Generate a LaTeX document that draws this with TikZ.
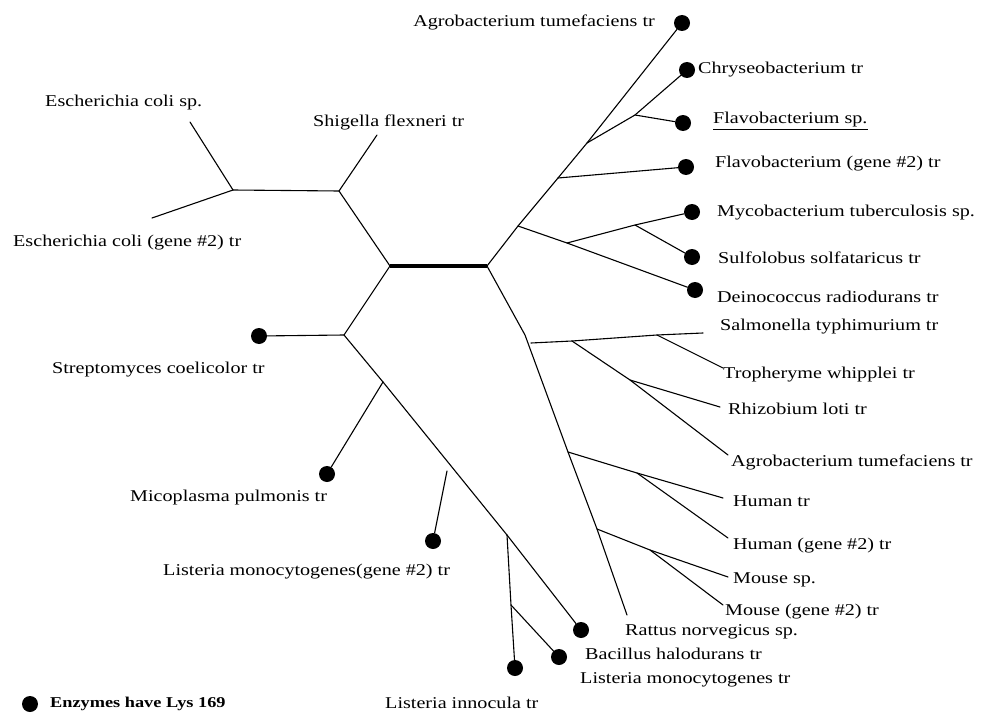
\documentclass[tikz,border=0pt]{standalone}
\usepackage{fontspec}
\setmainfont{Liberation Serif}[FakeStretch=1.22]
\begin{document}
\begin{tikzpicture}[x=1pt,y=-1pt,
  br/.style={line width=1.1pt,line cap=round},
  thickbar/.style={line width=3.6pt},
  ball/.style={circle,fill=black,inner sep=0pt,minimum size=16pt},
  lab/.style={font=\fontsize{16.5}{18}\selectfont,inner sep=0pt,anchor=west},
  labe/.style={lab,anchor=east},
]
\useasboundingbox (0,0) rectangle (991,717);
% internal junctions
\coordinate (cL) at (390,266);
\coordinate (cR) at (487,266);
\coordinate (sh) at (339,191);
\coordinate (ec) at (233,190);
\coordinate (shEnd) at (377,135);
\coordinate (ecsEnd) at (190,122);
\coordinate (ec2End) at (152,218);
\coordinate (st) at (344,335);
\coordinate (mi) at (383,382);
\coordinate (lmStub) at (447,471);
\coordinate (li) at (507,535);
\coordinate (ba) at (511,605);
\coordinate (my) at (518,226);
\coordinate (fg) at (558,178);
\coordinate (ch) at (587,143);
\coordinate (fs) at (635,115);
\coordinate (mg) at (567,243);
\coordinate (ms) at (635,225);
\coordinate (lb) at (525,335);
\coordinate (rattEnd) at (627,615);
\coordinate (sa0) at (531,343);
\coordinate (sa1) at (572,341);
\coordinate (sa2) at (657,335);
\coordinate (saEnd) at (703,333);
\coordinate (rh) at (630,380);
\coordinate (agEnd) at (728,455);
\coordinate (rhEnd) at (720,407);
\coordinate (trEnd) at (723,368);
\coordinate (hu) at (568,452);
\coordinate (hj) at (637,473);
\coordinate (huEnd) at (723,498);
\coordinate (hu2End) at (728,538);
\coordinate (mo) at (597,529);
\coordinate (mj) at (650,550);
\coordinate (moEnd) at (728,577);
\coordinate (mo2End) at (723,605);
% balls
\node[ball] (bTop) at (682,23) {};
\node[ball] (bCh) at (687,70) {};
\node[ball] (bFs) at (683,123) {};
\node[ball] (bFg) at (686,167) {};
\node[ball] (bMy) at (692,212) {};
\node[ball] (bSu) at (692,257) {};
\node[ball] (bDe) at (695,290) {};
\node[ball] (bSt) at (259,336) {};
\node[ball] (bMi) at (327,474) {};
\node[ball] (bLm2) at (433,541) {};
\node[ball] (bDiag) at (581,630) {};
\node[ball] (bBa) at (559,657) {};
\node[ball] (bLi) at (515,668) {};
\node[ball] (bLeg) at (30,704) {};
% branches
\draw[thickbar] (cL) -- (cR);
\draw[br] (cL) -- (sh) -- (shEnd);
\draw[br] (sh) -- (ec);
\draw[br] (ec) -- (ecsEnd);
\draw[br] (ec) -- (ec2End);
\draw[br] (cL) -- (st) -- (bSt);
\draw[br] (st) -- (mi) -- (bMi);
\draw[br] (mi) -- (li) -- (bDiag);
\draw[br] (lmStub) -- (bLm2);
\draw[br] (li) -- (ba) -- (bLi);
\draw[br] (ba) -- (bBa);
\draw[br] (cR) -- (my) -- (fg) -- (ch) -- (bTop);
\draw[br] (ch) -- (fs) -- (bCh);
\draw[br] (fs) -- (bFs);
\draw[br] (fg) -- (bFg);
\draw[br] (my) -- (mg) -- (bDe);
\draw[br] (mg) -- (ms) -- (bMy);
\draw[br] (ms) -- (bSu);
\draw[br] (cR) -- (lb) -- (hu) -- (mo) -- (rattEnd);
\draw[br] (sa0) -- (sa1) -- (sa2) -- (saEnd);
\draw[br] (sa1) -- (rh) -- (agEnd);
\draw[br] (rh) -- (rhEnd);
\draw[br] (sa2) -- (trEnd);
\draw[br] (hu) -- (hj) -- (huEnd);
\draw[br] (hj) -- (hu2End);
\draw[br] (mo) -- (mj) -- (moEnd);
\draw[br] (mj) -- (mo2End);
% labels
\node[labe] (tAg1) at (655,22) {Agrobacterium tumefaciens tr};
\node[lab] (tCh) at (698,70) {Chryseobacterium tr};
\node[lab] (tFs) at (713,121) {\underline{Flavobacterium sp.}};
\node[lab] (tFg) at (715,164) {Flavobacterium (gene \#2) tr};
\node[lab] (tMy) at (717,213) {Mycobacterium tuberculosis sp.};
\node[lab] (tSu) at (718,258) {Sulfolobus solfataricus tr};
\node[lab] (tDe) at (717,297) {Deinococcus radiodurans tr};
\node[lab] (tSa) at (720,327) {Salmonella typhimurium tr};
\node[lab] (tTr) at (723,375) {Tropheryme whipplei tr};
\node[lab] (tRh) at (728,409) {Rhizobium loti tr};
\node[lab] (tAg2) at (731,462) {Agrobacterium tumefaciens tr};
\node[lab] (tHu) at (733,501) {Human tr};
\node[lab] (tHu2) at (733,546) {Human (gene \#2) tr};
\node[lab] (tMo) at (733,580) {Mouse sp.};
\node[lab] (tMo2) at (725,612) {Mouse (gene \#2) tr};
\node[lab] (tRa) at (625,632) {Rattus norvegicus sp.};
\node[lab] (tBa) at (585,654) {Bacillus halodurans tr};
\node[lab] (tLm) at (580,680) {Listeria monocytogenes tr};
\node[lab] (tLi) at (385,703) {Listeria innocula tr};
\node[lab] (tLm2) at (163,572) {Listeria monocytogenes(gene \#2) tr};
\node[lab] (tMi) at (130,498) {Micoplasma pulmonis tr};
\node[lab] (tSt) at (52,370) {Streptomyces coelicolor tr};
\node[lab] (tEc2) at (13,243) {Escherichia coli (gene \#2) tr};
\node[lab] (tEcs) at (45,103) {Escherichia coli sp.};
\node[lab] (tSh) at (313,122) {Shigella flexneri tr};
\node[lab,font=\fontsize{15}{17}\selectfont\bfseries] (tLeg) at (50,704) {Enzymes have Lys 169};
\end{tikzpicture}
\end{document}
